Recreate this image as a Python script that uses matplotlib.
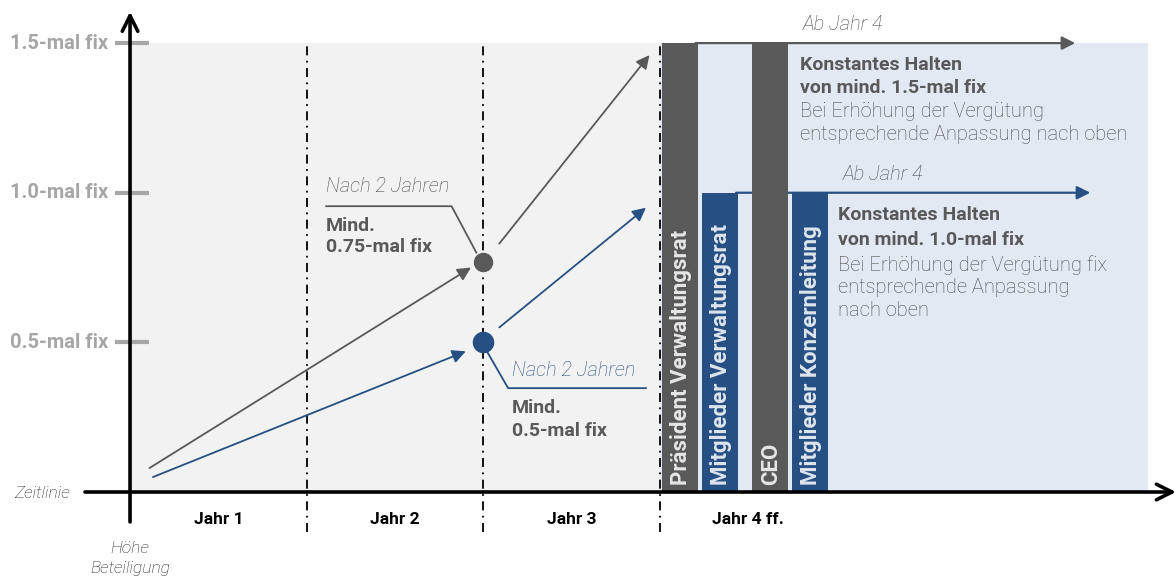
import matplotlib
matplotlib.use("Agg")
import matplotlib.pyplot as plt
from matplotlib.patches import Rectangle

plt.rcParams['font.family'] = ['Roboto', 'DejaVu Sans']

# ---- data ----
categories = ["Präsident Verwaltungsrat", "Mitglieder Verwaltungsrat", "CEO", "Mitglieder Konzernleitung"]
bar_values = [1.5, 1.0, 1.5, 1.0]
bar_groups = ["gray", "blue", "gray", "blue"]
year_labels = ["Jahr 1", "Jahr 2", "Jahr 3", "Jahr 4 ff."]
tick_values = [0.5, 1.0, 1.5]
tick_labels = ["0.5-mal fix", "1.0-mal fix", "1.5-mal fix"]
milestone_gray = 0.77   # "Mind. 0.75-mal fix" after 2 years
milestone_blue = 0.5    # "Mind. 0.5-mal fix" after 2 years
gray_path = [(0.11, 0.08), (1.93, 0.75), (2.09, 0.83), (2.94, 1.46)]
blue_path = [(0.13, 0.05), (1.90, 0.47), (2.09, 0.55), (2.92, 0.95)]

GRAY = "#595959"
LIGHTTXT = "#4a4a4a"
BLUE = "#264f83"
LGRAY = "#f2f2f2"
LBLUE = "#e3e9f3"
TICKGRAY = "#a6a6a6"

FS_B = 14      # bold texts
FS_L = 14.5    # light / italic texts

fig = plt.figure(figsize=(11.76, 5.77), dpi=100)
ax = fig.add_axes([0, 0, 1, 1])
ax.set_xlim(-0.736, 5.920)
ax.set_ylim(-0.284, 1.644)
ax.axis("off")

# backgrounds
ax.add_patch(Rectangle((0, 0), 3.0, 1.5, facecolor=LGRAY, edgecolor="none", zorder=0))
ax.add_patch(Rectangle((3.0, 0), 2.76, 1.5, facecolor=LBLUE, edgecolor="none", zorder=0))

# year separators
for xv in [1, 2, 3]:
    ax.plot([xv, xv], [-0.135, 1.5], color="black", lw=1.3, linestyle=(0, (5, 3, 1, 3)), zorder=1)

# horizontal hold arrows
ax.annotate("", xy=(5.35, 1.5), xytext=(3.2, 1.5),
            arrowprops=dict(arrowstyle="-|>", color=GRAY, lw=1.6, mutation_scale=20, shrinkA=0, shrinkB=0), zorder=2)
ax.annotate("", xy=(5.435, 1.0), xytext=(3.43, 1.0),
            arrowprops=dict(arrowstyle="-|>", color=BLUE, lw=1.6, mutation_scale=20, shrinkA=0, shrinkB=0), zorder=2)

# bars
bar_left = [3.012, 3.237, 3.520, 3.746]
bar_w = 0.203
for x0, v, g, lab in zip(bar_left, bar_values, bar_groups, categories):
    c = GRAY if g == "gray" else BLUE
    ax.bar(x0, v, width=bar_w, align="edge", color=c, zorder=3)
    ax.text(x0 + bar_w / 2 + 0.005, 0.022, lab, rotation=90, ha="center", va="bottom",
            color="white", fontsize=16, fontweight="bold", alpha=0.85, zorder=4)

# trend arrows
for path, c in [(gray_path, GRAY), (blue_path, BLUE)]:
    for (x0, y0), (x1, y1) in [(path[0], path[1]), (path[2], path[3])]:
        ax.annotate("", xy=(x1, y1), xytext=(x0, y0),
                    arrowprops=dict(arrowstyle="-|>", color=c, lw=1.3, mutation_scale=20, shrinkA=0, shrinkB=0), zorder=2)

# milestone dots
ax.plot([2.0], [milestone_gray], "o", color=GRAY, markersize=13, zorder=5)
ax.plot([2.0], [milestone_blue], "o", color=BLUE, markersize=14.5, zorder=5)

# gray leader
ax.plot([1.11, 1.82, 1.96], [0.955, 0.955, 0.80], color=GRAY, lw=1.3, zorder=4)
ax.text(1.11, 1.02, "Nach 2 Jahren", color=LIGHTTXT, fontsize=FS_L, fontstyle="italic", fontweight="light", ha="left", va="center")
ax.text(1.11, 0.89, "Mind.", color=GRAY, fontsize=FS_B, fontweight="bold", ha="left", va="center")
ax.text(1.11, 0.82, "0.75-mal fix", color=GRAY, fontsize=FS_B, fontweight="bold", ha="left", va="center")

# blue leader
ax.plot([2.02, 2.14, 2.92], [0.47, 0.347, 0.347], color=BLUE, lw=1.3, zorder=4)
ax.text(2.16, 0.407, "Nach 2 Jahren", color=BLUE, fontsize=FS_L, fontstyle="italic", fontweight="light", ha="left", va="center")
ax.text(2.16, 0.28, "Mind.", color=GRAY, fontsize=FS_B, fontweight="bold", ha="left", va="center")
ax.text(2.16, 0.205, "0.5-mal fix", color=GRAY, fontsize=FS_B, fontweight="bold", ha="left", va="center")

# right texts
ax.text(3.81, 1.562, "Ab Jahr 4", color=LIGHTTXT, fontsize=FS_L, fontstyle="italic", fontweight="light", ha="left", va="center")
ax.text(3.79, 1.427, "Konstantes Halten", color=GRAY, fontsize=FS_B, fontweight="bold", ha="left", va="center")
ax.text(3.79, 1.350, "von mind. 1.5-mal fix", color=GRAY, fontsize=FS_B, fontweight="bold", ha="left", va="center")
ax.text(3.79, 1.270, "Bei Erhöhung der Vergütung", color=LIGHTTXT, fontsize=FS_L, fontweight="light", ha="left", va="center")
ax.text(3.79, 1.193, "entsprechende Anpassung nach oben", color=LIGHTTXT, fontsize=FS_L, fontweight="light", ha="left", va="center")

ax.text(4.035, 1.06, "Ab Jahr 4", color=LIGHTTXT, fontsize=FS_L, fontstyle="italic", fontweight="light", ha="left", va="center")
ax.text(4.007, 0.925, "Konstantes Halten", color=GRAY, fontsize=FS_B, fontweight="bold", ha="left", va="center")
ax.text(4.007, 0.842, "von mind. 1.0-mal fix", color=GRAY, fontsize=FS_B, fontweight="bold", ha="left", va="center")
ax.text(4.007, 0.758, "Bei Erhöhung der Vergütung fix", color=LIGHTTXT, fontsize=FS_L, fontweight="light", ha="left", va="center")
ax.text(4.007, 0.682, "entsprechende Anpassung", color=LIGHTTXT, fontsize=FS_L, fontweight="light", ha="left", va="center")
ax.text(4.007, 0.608, "nach oben", color=LIGHTTXT, fontsize=FS_L, fontweight="light", ha="left", va="center")

# y ticks
for v, lab in zip(tick_values, tick_labels):
    ax.plot([-0.085, 0.11], [v, v], color=TICKGRAY, lw=3, solid_capstyle="butt", zorder=6)
    ax.text(-0.125, v, lab, color=TICKGRAY, fontsize=14.5, fontweight="bold", ha="right", va="center")

# axes arrows
ax.annotate("", xy=(5.92, 0.0), xytext=(-0.255, 0.0),
            arrowprops=dict(arrowstyle="->", color="black", lw=2.6, mutation_scale=28, shrinkA=0, shrinkB=0), zorder=7)
ax.annotate("", xy=(0.0, 1.605), xytext=(0.0, -0.10),
            arrowprops=dict(arrowstyle="->", color="black", lw=2.6, mutation_scale=28, shrinkA=0, shrinkB=0), zorder=7)

# year labels
for i, lab in enumerate(year_labels):
    ax.text(i + 0.5, -0.093, lab, color="black", fontsize=12.5, fontweight="bold", ha="center", va="center")

ax.text(-0.34, -0.005, "Zeitlinie", color="#222222", fontsize=12.5, fontstyle="italic", fontweight="light", ha="right", va="center")
ax.text(0.0, -0.188, "Höhe", color="#222222", fontsize=12.5, fontstyle="italic", fontweight="light", ha="center", va="center")
ax.text(0.0, -0.255, "Beteiligung", color="#222222", fontsize=12.5, fontstyle="italic", fontweight="light", ha="center", va="center")

fig.savefig("out.png", dpi=100)
